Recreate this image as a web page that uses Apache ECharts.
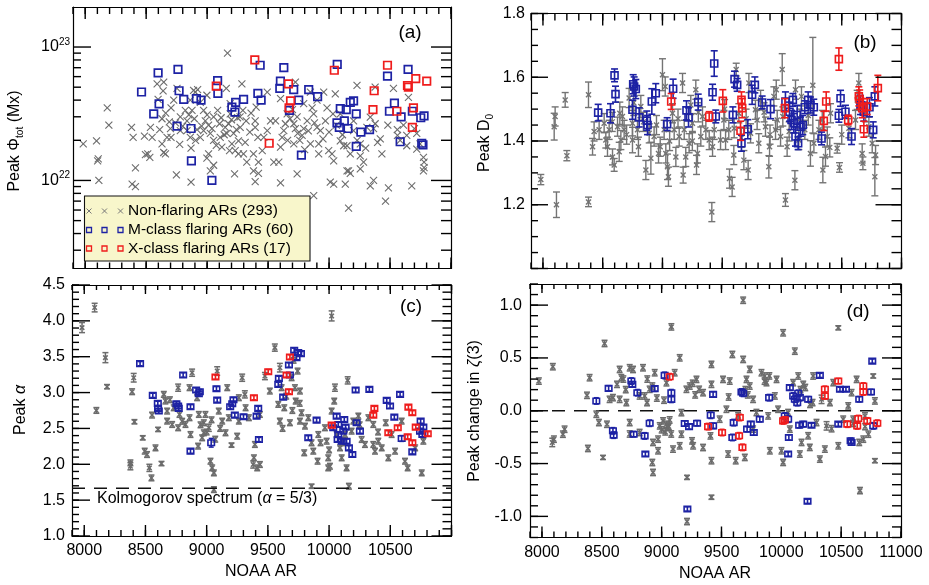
<!DOCTYPE html>
<html><head><meta charset="utf-8">
<script src="https://cdn.jsdelivr.net/npm/echarts@6/dist/echarts.min.js"></script>
<style>html,body{margin:0;padding:0;background:#fff}#c{width:929px;height:585px}</style>
</head><body><div id="c"></div>
<script>
// ---------------- DATA ----------------
const AR_MIN = 7900, AR_MAX = 11000;
const xMajorTicks = [8000, 8500, 9000, 9500, 10000, 10500, 11000];
const xLabelsC = [8000, 8500, 9000, 9500, 10000, 10500];
const xLabelsD = [8000, 8500, 9000, 9500, 10000, 10500, 11000];
const fluxExpTicks = [22, 23];              // 10^22, 10^23 Mx
const fluxRange = [21.34, 23.30];           // log10 Mx
const dimTicks = [1.0, 1.2, 1.4, 1.6, 1.8];
const dimLabels = [1.2, 1.4, 1.6, 1.8];
const alphaTicks = [1.0, 1.5, 2.0, 2.5, 3.0, 3.5, 4.0, 4.5];
const zetaTicks = [-1.0, -0.5, 0.0, 0.5, 1.0];
const KOLMOGOROV = 5 / 3;
const kolmogorovLine = [[AR_MIN, KOLMOGOROV], [AR_MAX, KOLMOGOROV]];
const zeroLine = [[AR_MIN, 0], [AR_MAX, 0]];

// Panel (a): peak total flux, units of 1e22 Mx  [NOAA AR, flux]
const fluxNon = [
[7984,1.88],[8093,1.98],[8102,1.4],[8107,1.45],[8112,1.0],[8181,3.5],[8194,2.6],[8380,2.5],[8393,2.1],[8412,1.24],[8385,0.94],[8412,0.9],[8486,2.15],[8549,2.1],[8535,2.5],[8513,1.58],[8494,1.56],[8530,1.49],[8590,5.3],[8644,5.45],[8639,4.7],[8598,4.05],[8630,2.9],[8611,2.4],[8671,2.1],[8630,1.88],[8644,1.62],[8658,1.58],[8726,4.0],[8704,3.5],[8753,4.9],[8780,3.0],[8775,1.86],[8821,3.35],[8835,2.8],[8876,3.35],[8889,4.74],[8922,4.8],[8862,2.1],[8868,1.75],[8895,2.9],[8917,2.4],[8944,2.1],[8971,3.35],[8985,2.8],[8998,4.35],[9012,2.6],[9012,1.58],[8998,1.47],[9053,1.3],[9026,1.18],[9053,3.0],[9086,3.35],[9102,2.66],[9107,2.1],[9121,1.78],[9157,4.9],[9167,9.0],[9189,3.76],[9176,2.66],[9217,2.25],[9203,1.88],[9184,1.67],[9230,1.67],[9271,2.5],[9285,5.3],[9257,1.98],[9298,1.58],[9225,1.12],[9293,3.35],[9320,2.8],[9325,1.37],[9380,1.58],[9394,2.8],[9394,2.5],[9416,2.1],[9402,3.55],[9421,1.37],[9380,1.18],[9421,1.13],[9394,0.98],[8748,1.1],[8868,0.97],[8699,2.45],[8704,2.1],[8780,2.36],[8835,2.36],[8862,4.0],[8903,4.6],[8944,3.85],[8971,2.36],[9026,2.25],[9053,2.0],[9075,1.83],[9148,2.5],[9162,2.25],[9189,3.15],[9249,2.95],[9257,1.58],[9312,1.93],
[8660,3.2],[8690,2.75],[8740,2.7],[8800,2.55],[8850,3.1],[8905,2.0],[8955,2.55],[9000,3.1],[9040,2.45],[9115,2.95],[9140,2.2],[9200,2.85],[9240,2.4],[9270,3.0],[9350,2.3],[9360,3.2],
[9493,4.6],[9520,2.8],[9465,2.1],[9561,2.8],[9547,1.37],[9588,1.37],[9602,1.78],[9615,2.1],[9629,2.36],[9642,2.66],[9711,1.88],[9724,2.45],[9738,3.0],[9743,2.25],[9738,1.12],[9724,5.45],[9711,2.66],[9779,2.18],[9820,2.8],[9847,4.6],[9861,3.5],[9874,3.15],[9901,2.5],[9915,1.88],[9915,1.58],[9956,4.6],[9983,3.5],[9970,2.8],[9997,1.67],[10024,1.58],[10038,1.4],[10010,0.97],[10038,0.94],[10133,0.94],[9874,0.77],[10160,0.62],[10092,1.98],[10147,1.82],[10160,1.18],[10174,1.13],[10229,5.15],[10256,1.53],[10283,1.37],[10256,1.22],[10365,1.0],[10338,0.91],[10378,5.0],[10378,2.66],[10365,2.45],[10398,1.93],[10433,1.58],[10487,0.88],[10463,0.7],[10482,2.6],[10528,4.9],[10561,2.18],[10583,2.0],[10637,1.82],[10651,4.2],[10637,2.18],[10678,0.91],[10719,2.25],[10774,1.49],[10779,1.37],[10779,1.25],[10774,1.18],[10746,1.88],[10719,1.72],[10610,2.6],[10338,2.98],[10310,2.5],[10201,2.8],[10201,2.36],[10092,3.15],[10032,3.15],[10051,4.45],[10174,1.58],[10256,1.88],[10120,1.82],[9901,4.0],[9847,1.88],[9792,3.76],[9656,3.15],[9602,4.1],[9493,2.36],[9452,1.67],[9602,0.96],[9929,2.36],[9792,2.45],[10147,1.18],
[9660,2.0],[9680,2.9],[9700,3.4],[9760,2.0],[9800,1.7],[9830,2.35],[9880,2.7],[9950,2.05],[10000,2.3],[10060,2.6],[10110,2.2],[10230,2.0],[10300,1.75],[10420,2.05],[10560,2.4],[10700,2.45]
];
const fluxM = [
[8462,4.6],[8598,6.4],[8761,6.8],[8770,4.7],[8808,4.05],[8606,3.75],[8562,3.15],[8753,2.55],[8868,2.45],[8871,1.4],[9039,1.0],[9086,5.6],[9088,4.5],[8912,4.1],[8950,4.0],[9203,3.55],[9228,3.25],[9234,3.85],[9299,4.05],[9416,4.5],[9443,4.0],[9435,7.3],[9629,7.0],[9601,5.55],[9596,4.9],[9710,4.8],[9833,4.8],[9906,4.25],[9675,3.35],[9751,4.0],[9773,1.55],[10067,7.4],[10174,3.85],[10201,3.95],[10092,3.45],[10141,3.4],[10223,3.15],[10065,2.7],[10125,2.8],[10084,2.5],[10155,2.45],[10261,2.3],[10332,2.4],[10223,1.8],[10479,6.05],[10648,6.8],[10536,3.8],[10495,3.3],[10591,3.0],[10683,3.3],[10752,2.95],[10779,3.05],[10583,1.95],[10760,1.9],[10770,1.85]
];
const fluxX = [
[9391,8.0],[9075,5.1],[9509,1.9],[9667,5.3],[9684,3.95],[9672,3.5],[10043,6.7],[10370,4.7],[10360,3.4],[10479,7.3],[10643,5.15],[10650,5.0],[10711,5.8],[10801,5.55],[10556,3.3],[10692,3.5],[10683,2.5]
];

// Panel (b): peak D0  [NOAA AR, D0, error]
const dimNon = [
[7982,1.279,0.016],[8094,1.445,0.042],[8102,1.477,0.03],[8113,1.2,0.04],[8186,1.529,0.023],[8200,1.354,0.016],[8381,1.545,0.04],[8381,1.209,0.015],[8415,1.382,0.026],[8428,1.43,0.03],[8470,1.435,0.03],[8512,1.456,0.03],[8526,1.403,0.025],[8540,1.382,0.03],[8582,1.35,0.025],[8596,1.325,0.02],[8624,1.445,0.03],[8643,1.487,0.035],[8652,1.403,0.03],[8665,1.477,0.03],[8638,1.366,0.03],[8721,1.535,0.03],[8749,1.456,0.04],[8749,1.403,0.04],[8791,1.435,0.03],[8799,1.382,0.03],[8819,1.508,0.035],[8861,1.309,0.03],[8903,1.346,0.05],[8930,1.414,0.03],[8967,1.361,0.03],[8981,1.382,0.03],[9000,1.608,0.05],[9023,1.571,0.03],[9014,1.435,0.03],[9042,1.319,0.04],[9050,1.288,0.03],[9028,1.361,0.03],[9084,1.487,0.03],[9098,1.435,0.03],[9112,1.35,0.03],[9140,1.414,0.03],[9168,1.582,0.03],[9173,1.293,0.025],[9182,1.435,0.03],[9223,1.393,0.03],[9237,1.513,0.03],[9251,1.456,0.03],[9279,1.561,0.03],[9293,1.361,0.03],[9285,1.325,0.03],[9321,1.414,0.03],[9363,1.435,0.03],[9391,1.403,0.03],[9413,1.177,0.03],[9419,1.382,0.03],[9433,1.435,0.03],[8554,1.435,0.03],[8679,1.435,0.03],[8889,1.424,0.03],[9195,1.35,0.03],[9335,1.477,0.03],
[9486,1.403,0.03],[9514,1.466,0.03],[9555,1.435,0.03],[9561,1.282,0.03],[9583,1.256,0.03],[9597,1.356,0.03],[9617,1.624,0.02],[9681,1.34,0.03],[9717,1.309,0.03],[9723,1.582,0.03],[9737,1.424,0.03],[9806,1.393,0.03],[9792,1.466,0.03],[9821,1.529,0.03],[9862,1.445,0.03],[9890,1.319,0.035],[9896,1.382,0.03],[9932,1.54,0.03],[9952,1.561,0.03],[9960,1.466,0.03],[10002,1.624,0.05],[10007,1.477,0.03],[9988,1.414,0.03],[10029,1.215,0.02],[10043,1.382,0.03],[10108,1.277,0.03],[10113,1.561,0.03],[10141,1.403,0.03],[10163,1.54,0.03],[10191,1.435,0.03],[10238,1.361,0.04],[10258,1.575,0.15],[10267,1.393,0.03],[10337,1.466,0.03],[10342,1.309,0.04],[10364,1.351,0.03],[10379,1.414,0.03],[10462,1.377,0.015],[10481,1.317,0.015],[10615,1.466,0.03],[10643,1.582,0.03],[10671,1.361,0.03],[10677,1.33,0.02],[10777,1.288,0.06],[10783,1.356,0.03],[10755,1.393,0.03],[9946,1.435,0.03],[9778,1.498,0.03],[9639,1.487,0.03],[9528,1.403,0.03],[10406,1.487,0.03],[10309,1.435,0.03],[10629,1.529,0.03],[10727,1.445,0.03],
[8580,1.46,0.03],[8700,1.42,0.03],[8760,1.52,0.04],[8840,1.46,0.03],[8950,1.45,0.03],[9060,1.40,0.03],[9130,1.47,0.03],[9250,1.40,0.03],[9300,1.49,0.03],[9520,1.50,0.03],[9600,1.44,0.03],[9660,1.41,0.03],[9700,1.47,0.03],[9850,1.49,0.03],[9900,1.42,0.03],[10060,1.43,0.03],[10150,1.47,0.03],[10220,1.48,0.03],[10400,1.38,0.03],[10500,1.42,0.03],[10560,1.44,0.03],[10700,1.49,0.03]
];
const dimM = [
[8462,1.489,0.026],[8565,1.487,0.03],[8599,1.606,0.02],[8607,1.547,0.025],[8755,1.578,0.03],[8763,1.571,0.03],[8777,1.563,0.03],[8749,1.498,0.03],[8805,1.474,0.03],[8869,1.464,0.03],[8875,1.45,0.03],[8911,1.524,0.04],[8944,1.55,0.03],[9039,1.453,0.02],[9089,1.564,0.03],[9201,1.496,0.03],[9218,1.474,0.03],[9299,1.522,0.025],[9419,1.553,0.025],[9433,1.643,0.04],[9446,1.477,0.02],
[9589,1.482,0.025],[9603,1.594,0.025],[9625,1.576,0.02],[9661,1.393,0.025],[9714,1.437,0.03],[9750,1.545,0.03],[9773,1.576,0.025],[9834,1.521,0.02],[9904,1.5,0.03],[10029,1.524,0.03],[10063,1.492,0.03],[10091,1.529,0.02],[10080,1.466,0.03],[10099,1.456,0.03],[10127,1.482,0.03],[10113,1.414,0.03],[10135,1.393,0.02],[10155,1.445,0.03],[10174,1.45,0.03],[10191,1.506,0.02],[10219,1.529,0.025],[10238,1.513,0.025],[10266,1.506,0.025],[10331,1.408,0.02],[10476,1.479,0.02],[10490,1.534,0.025],[10531,1.492,0.02],[10582,1.414,0.025],[10657,1.513,0.03],[10685,1.492,0.03],[10763,1.435,0.025],[10777,1.54,0.03],[10732,1.506,0.03]
];
const dimX = [
[9073,1.524,0.025],[9391,1.477,0.015],[9505,1.526,0.035],[9661,1.529,0.025],[9667,1.503,0.03],[9653,1.432,0.03],[10024,1.503,0.03],[10370,1.524,0.03],[10350,1.463,0.03],[10476,1.657,0.035],[10554,1.466,0.015],[10643,1.54,0.03],[10650,1.53,0.03],[10671,1.503,0.03],[10685,1.437,0.025],[10713,1.508,0.025],[10802,1.566,0.04]
];

// Panel (c): peak alpha  [NOAA AR, alpha, error]
const alphaNon = [
[7982,3.906,0.07],[8085,4.185,0.06],[8173,3.487,0.07],[8186,3.082,0.03],[8099,2.751,0.04],[8404,3.207,0.06],[8391,3.012,0.04],[8410,2.593,0.03],[8377,1.973,0.05],[8377,2.02,0.04],[8478,2.369,0.03],[8494,2.183,0.04],[8513,2.136,0.04],[8532,1.95,0.05],[8549,1.81,0.04],[8582,2.229,0.04],[8631,2.01,0.03],[8554,2.686,0.04],[8650,2.975,0.04],[8663,2.882,0.04],[8677,2.602,0.04],[8603,2.486,0.03],[8718,2.555,0.04],[8731,2.788,0.04],[8767,3.068,0.05],[8767,2.509,0.04],[8778,2.695,0.04],[8860,3.068,0.04],[8860,2.649,0.04],[8868,2.415,0.04],[8881,3.277,0.05],[8922,2.928,0.04],[8936,2.695,0.04],[8930,2.253,0.04],[8977,2.579,0.04],[8977,2.439,0.04],[9018,2.509,0.05],[9031,2.043,0.04],[9045,1.95,0.04],[9059,1.88,0.04],[9059,1.647,0.04],[9086,3.3,0.06],[9127,2.602,0.04],[9154,2.439,0.04],[9168,3.068,0.04],[9181,2.649,0.04],[9203,2.267,0.03],[9249,2.392,0.04],[9290,3.207,0.05],[9312,2.975,0.05],[9318,2.788,0.04],[9345,2.649,0.04],[9380,1.997,0.05],[9394,2.276,0.04],[9386,2.09,0.04],[9413,1.95,0.04],[8677,2.742,0.04],[8827,2.555,0.04],[8990,2.695,0.04],[9099,2.742,0.04],[9263,2.928,0.04],[8963,2.369,0.04],[9263,2.602,0.04],
[9435,2.695,0.04],[9435,1.997,0.04],[9476,3.23,0.05],[9557,3.627,0.05],[9516,3.021,0.04],[9598,3.347,0.06],[9585,2.835,0.04],[9598,2.602,0.04],[9612,3.068,0.04],[9634,2.788,0.04],[9680,2.579,0.04],[9694,3.207,0.04],[9721,3.068,0.04],[9727,2.881,0.04],[9743,3.3,0.04],[9762,3.021,0.04],[9762,2.602,0.04],[9775,2.718,0.04],[9830,2.649,0.04],[9857,2.299,0.04],[9797,2.16,0.04],[9871,2.183,0.04],[9906,2.043,0.04],[9980,2.322,0.04],[9993,2.09,0.04],[9993,1.95,0.04],[10007,1.973,0.04],[10048,3.068,0.05],[10042,2.881,0.04],[10062,2.415,0.04],[10089,2.229,0.04],[10103,2.09,0.04],[10143,1.95,0.04],[10152,3.17,0.05],[10162,1.694,0.04],[10184,2.462,0.04],[10239,2.672,0.04],[10266,2.346,0.04],[10293,2.276,0.04],[10361,2.276,0.04],[10375,2.183,0.04],[10402,2.322,0.04],[10430,2.229,0.04],[10463,2.579,0.04],[10484,2.09,0.04],[10620,2.043,0.04],[10642,1.95,0.04],[10703,2.229,0.04],[10757,1.88,0.04],[10770,2.322,0.04],[10361,2.555,0.04],[9857,1.694,0.03],[9966,2.509,0.04],[10021,2.742,0.04],[10021,4.069,0.07],[9803,2.532,0.04],[9912,2.415,0.04],[10130,2.415,0.04],[10198,2.602,0.04],[10321,2.649,0.04],[10511,2.415,0.04],[10593,2.602,0.04],[10539,2.183,0.04],
[8950,2.55,0.04],[9000,2.45,0.04],[9040,2.62,0.04],[9070,2.35,0.04],[9110,2.5,0.04],[8700,2.9,0.04],[8800,2.6,0.04],[9650,2.95,0.04],[9700,2.75,0.04],[9710,3.45,0.04],[9760,2.85,0.04],[9620,2.5,0.04],[9930,2.3,0.04],[10000,2.2,0.04],[10110,2.3,0.04],[10250,2.55,0.04],[10400,2.45,0.04]
];
const alphaM = [
[8456,3.403,0.03],[8560,2.961,0.03],[8601,2.849,0.03],[8603,2.779,0.03],[8609,2.742,0.03],[8808,3.245,0.03],[8753,2.844,0.03],[8767,2.812,0.03],[8772,2.779,0.03],[8868,2.802,0.03],[8868,2.183,0.03],[8914,3.035,0.03],[8944,3.012,0.03],[8936,2.984,0.03],[9037,2.3,0.06],[9080,3.054,0.03],[9086,2.895,0.03],[9192,2.802,0.03],[9209,2.844,0.03],[9219,2.9,0.03],[9230,2.686,0.03],[9301,2.663,0.03],[9408,2.672,0.03],[9421,2.779,0.03],[9427,2.345,0.03],
[9590,3.198,0.03],[9585,3.114,0.03],[9625,2.937,0.03],[9672,3.384,0.03],[9715,3.59,0.03],[9748,3.557,0.03],[9770,3.543,0.03],[9734,3.487,0.03],[9680,3.245,0.03],[9830,2.369,0.03],[9898,2.616,0.03],[10062,2.672,0.03],[10075,2.415,0.03],[10116,2.462,0.03],[10135,2.518,0.03],[10143,2.322,0.03],[10103,2.322,0.03],[10070,2.346,0.03],[10162,2.229,0.03],[10190,2.136,0.03],[10217,3.035,0.03],[10225,2.579,0.03],[10252,2.462,0.03],[10329,3.044,0.03],[10471,2.891,0.03],[10498,2.812,0.03],[10533,2.658,0.03],[10580,2.975,0.03],[10593,2.36,0.04],[10680,2.173,0.03],[10748,2.602,0.03],[10770,2.518,0.03],[10743,2.462,0.03],[10762,2.415,0.03],[10034,2.509,0.03],[10124,2.625,0.03],[10075,2.555,0.03]
];
const alphaX = [
[9072,3.217,0.03],[9386,2.928,0.03],[9503,3.291,0.03],[9680,3.496,0.03],[9653,3.245,0.03],[9672,3.012,0.03],[10021,2.546,0.03],[10370,2.779,0.03],[10361,2.686,0.03],[10484,2.439,0.03],[10561,2.509,0.03],[10648,2.797,0.03],[10680,2.718,0.03],[10708,2.518,0.03],[10642,2.383,0.03],[10680,2.3,0.03],[10806,2.425,0.03]
];

// Panel (d): peak change in zeta(3)  [NOAA AR, value, error]
const zetaNon = [
[7974,0.281,0.03],[8091,0.417,0.03],[8086,-0.3,0.04],[8100,-0.269,0.03],[8175,-0.222,0.03],[8189,-0.175,0.03],[8384,-0.357,0.03],[8376,0.146,0.03],[8398,0.313,0.03],[8523,0.637,0.03],[8510,-0.442,0.02],[8476,-0.112,0.03],[8454,-0.033,0.03],[8543,-0.128,0.03],[8593,0.124,0.03],[8627,0.25,0.03],[8649,0.391,0.03],[8663,0.313,0.03],[8733,0.407,0.03],[8761,0.391,0.03],[8733,-0.112,0.03],[8844,0.407,0.03],[8858,0.14,0.03],[8878,0.077,0.03],[8900,0.203,0.03],[8922,0.234,0.03],[8942,0.36,0.03],[8928,-0.3,0.03],[8922,-0.49,0.03],[8928,-0.584,0.03],[8970,-0.379,0.03],[8970,-0.269,0.03],[8984,-0.143,0.03],[9012,-0.096,0.03],[9040,-0.128,0.03],[9053,-0.159,0.03],[9067,-0.087,0.03],[9040,0.265,0.03],[9081,0.794,0.03],[9095,-0.363,0.03],[9151,0.501,0.03],[9165,-0.018,0.03],[9165,-0.222,0.03],[9151,-0.332,0.03],[9207,0.203,0.03],[9212,-0.631,0.02],[9212,-1.049,0.03],[9235,0.234,0.03],[9254,-0.285,0.03],[9263,-0.332,0.03],[9291,0.297,0.03],[9313,0.203,0.03],[9346,-0.348,0.03],[9416,-0.819,0.02],[9416,-0.473,0.03],[9408,-0.238,0.03],[9416,0.25,0.03],[9416,0.439,0.03],[8649,0.108,0.03],[8565,0.108,0.03],[8816,0.14,0.03],[8816,-0.206,0.03],[8705,0.077,0.03],[8733,-0.22,0.03],[9109,0.36,0.03],[9346,0.171,0.03],
[9513,0.297,0.03],[9485,-0.08,0.03],[9555,-0.41,0.03],[9569,0.281,0.03],[9591,0.533,0.03],[9619,-0.473,0.03],[9681,1.046,0.03],[9681,0.486,0.03],[9695,-0.442,0.03],[9709,0.297,0.03],[9736,0.392,0.03],[9736,0.234,0.03],[9764,0.108,0.03],[9792,-0.017,0.03],[9834,0.36,0.03],[9862,0.329,0.03],[9876,0.266,0.03],[9890,-0.049,0.03],[9904,-0.379,0.03],[9946,0.14,0.03],[9973,0.014,0.03],[10001,-0.379,0.03],[10015,-0.489,0.03],[10015,0.738,0.03],[10057,-0.017,0.03],[10099,0.266,0.03],[10113,0.564,0.03],[10141,0.329,0.03],[10155,-0.41,0.03],[10169,-0.3,0.03],[10183,0.25,0.03],[10224,-0.237,0.03],[10238,-0.347,0.03],[10261,0.077,0.03],[10322,-0.458,0.03],[10336,0.108,0.04],[10364,-0.363,0.03],[10378,-0.143,0.04],[10406,0.077,0.03],[10476,-0.332,0.03],[10476,0.785,0.02],[10559,0.046,0.03],[10587,0.171,0.03],[10629,0.297,0.03],[10651,-0.3,0.03],[10657,-0.756,0.03],[10685,-0.269,0.03],[10727,-0.222,0.03],[10768,0.329,0.02],[10782,-0.473,0.02],[10782,0.093,0.03],[10517,-0.08,0.03],[10601,-0.08,0.03],[10699,-0.049,0.03],[9764,-0.174,0.03],[9639,-0.049,0.03],[9541,0.014,0.03],[9960,0.297,0.03],[10266,0.329,0.03],[10434,0.266,0.03],[10071,-0.174,0.03],[10294,-0.112,0.03],
[9000,-0.18,0.03],[9030,-0.2,0.03],[9060,-0.15,0.03],[9080,-0.22,0.03],[9020,0.1,0.03],[8960,0.12,0.03],[8880,0.3,0.03],[8700,0.2,0.03],[8680,0.3,0.03],[9260,0.26,0.03],[9280,0.15,0.03],[9560,0.13,0.03],[9700,0.2,0.03],[9720,0.15,0.03],[9860,0.28,0.03],[9900,0.33,0.03],[10160,0.2,0.03],[10200,0.22,0.03],[10240,0.06,0.03],[10420,-0.17,0.03],[10600,-0.12,0.03],[10700,-0.15,0.03]
];
const zetaM = [
[8454,0.093,0.03],[8557,0.212,0.025],[8593,-0.19,0.03],[8599,-0.231,0.03],[8747,0.281,0.03],[8755,0.25,0.025],[8797,0.171,0.03],[8766,-0.222,0.025],[8858,-0.238,0.03],[8864,-0.41,0.02],[8900,-0.118,0.03],[8942,0.209,0.025],[9025,0.335,0.03],[9081,0.171,0.03],[9081,0.108,0.03],[9193,-0.121,0.025],[9229,-0.15,0.025],[9296,-0.118,0.025],[9215,-0.93,0.02],[9430,0.155,0.025],[9410,-0.043,0.03],[9430,-0.143,0.025],
[9591,-0.253,0.03],[9602,-0.112,0.03],[9667,0.178,0.03],[9681,0.165,0.03],[9714,-0.174,0.025],[9745,-0.127,0.025],[9770,-0.206,0.025],[9820,-0.08,0.025],[9898,0.124,0.03],[10029,-0.049,0.03],[10057,-0.08,0.03],[10063,-0.253,0.025],[10057,-0.41,0.02],[10071,0.219,0.025],[10099,0.14,0.03],[10113,0.109,0.03],[10141,0.165,0.03],[10155,0.124,0.03],[10133,0.077,0.03],[10149,-0.137,0.025],[10183,-0.127,0.025],[10224,0.109,0.025],[10252,-0.137,0.02],[10219,-0.857,0.02],[10322,0.335,0.02],[10476,-0.127,0.02],[10490,0.203,0.02],[10540,0.203,0.02],[10579,-0.284,0.025],[10587,-0.3,0.025],[10651,0.109,0.025],[10749,0.178,0.025],[10760,0.47,0.02],[10768,-0.143,0.03]
];
const zetaX = [
[9067,0.322,0.03],[9388,-0.15,0.03],[9505,-0.206,0.03],[9653,-0.064,0.03],[9647,-0.237,0.03],[9675,-0.347,0.03],[10015,-0.096,0.03],[10029,-0.086,0.03],[10364,0.203,0.03],[10364,0.14,0.03],[10476,0.281,0.025],[10551,-0.127,0.03],[10643,-0.074,0.03],[10634,-0.143,0.03],[10685,0.234,0.03],[10685,0.178,0.03],[10718,-0.096,0.03],[10802,-0.118,0.03]
];

// ---------------- STYLE / LAYOUT ----------------
const FONT = '"Liberation Sans", Arial, Helvetica, sans-serif';
const GREY = '#6c6c6c', BLUE = '#1d22a4', RED = '#ef1c1c', INK = '#000';

function steps(a, b, s) { const r = []; for (let v = a; v <= b + 1e-9; v += s) r.push(+v.toFixed(4)); return r; }
const xMinorTicks = steps(AR_MIN, AR_MAX, 100);
const fluxMinorTicks = [];
[21, 22, 23].forEach(e => [2,3,4,5,6,7,8,9].forEach(m => { const v = e + Math.log10(m); if (v > fluxRange[0] && v < fluxRange[1]) fluxMinorTicks.push(+v.toFixed(5)); }));

const grids = [
  { left: 73, top: 7, width: 378, height: 261.5 },
  { left: 531, top: 13.5, width: 370.5, height: 255 },
  { left: 72, top: 285, width: 379.5, height: 251 },
  { left: 530, top: 284, width: 371, height: 253.5 }
];

// Frame: bottom/left axes carry labels; top/right twins close the box.
const xAxes = [], yAxes = [];
function lineOn() { return { show: true, onZero: false, lineStyle: { color: INK, width: 1.2 } }; }
function addX(g, labels) {
  const base = () => ({ type: 'value', gridIndex: g, min: AR_MIN, max: AR_MAX, axisLine: lineOn(), axisTick: { show: false }, splitLine: { show: false } });
  const first = xAxes.length;
  xAxes.push(Object.assign(base(), { position: 'bottom',
    axisLabel: labels ? { show: true, customValues: labels, formatter: v => String(v), fontFamily: FONT, fontSize: 16, color: '#000', margin: 7 } : { show: false } }));
  xAxes.push(Object.assign(base(), { position: 'top', axisLabel: { show: false } }));
  return first;
}
function addY(g, o) {
  const base = () => ({ type: 'value', gridIndex: g, min: o.min, max: o.max, axisLine: lineOn(), axisTick: { show: false }, splitLine: { show: false } });
  const first = yAxes.length;
  yAxes.push(Object.assign(base(), { position: 'left',
    axisLabel: { show: true, customValues: o.labels, formatter: o.fmt, rich: o.rich, fontFamily: FONT, fontSize: 16, color: '#000', margin: o.margin } }));
  yAxes.push(Object.assign(base(), { position: 'right', axisLabel: { show: false } }));
  return first;
}
const xa = addX(0, null), xb = addX(1, null), xc = addX(2, xLabelsC), xd = addX(3, xLabelsD);
const ya = addY(0, { min: fluxRange[0], max: fluxRange[1], labels: fluxExpTicks, margin: 3,
  fmt: v => '{b|10}{s|' + Math.round(v) + '}',
  rich: { b: { fontFamily: FONT, fontSize: 16, lineHeight: 20, color: '#000' }, s: { fontFamily: FONT, fontSize: 10, verticalAlign: 'top', color: '#000' } } });
const yb = addY(1, { min: 1.0, max: 1.8, labels: dimLabels, margin: 6, fmt: v => v.toFixed(1) });
const yc = addY(2, { min: 1.0, max: 4.5, labels: alphaTicks, margin: 7, fmt: v => v.toFixed(1) });
const yd = addY(3, { min: -1.2, max: 1.2, labels: zetaTicks, margin: 8, fmt: v => v.toFixed(1) });

// Inward tick marks drawn like the error bars: a custom series, positions from api.coord.
function tickSeries(xi, yi, dim, vals, yExt, lenNear, lenFar) {
  const yMid = (yExt[0] + yExt[1]) / 2, xMid = (AR_MIN + AR_MAX) / 2;
  return { type: 'custom', xAxisIndex: xi, yAxisIndex: yi, silent: true, z: 8, clip: false, animation: false,
    data: vals.map(v => dim === 'x' ? [v, yMid] : [xMid, v]), encode: { x: 0, y: 1 },
    renderItem: function (params, api) {
      const ls = { stroke: INK, lineWidth: 1.4, fill: null };
      if (dim === 'x') {
        const v = api.value(0);
        const b = api.coord([v, yExt[0]]), t = api.coord([v, yExt[1]]);
        return { type: 'group', children: [
          { type: 'line', shape: { x1: b[0], y1: b[1], x2: b[0], y2: b[1] - lenNear }, style: ls },
          { type: 'line', shape: { x1: t[0], y1: t[1], x2: t[0], y2: t[1] + lenFar }, style: ls } ] };
      }
      const v = api.value(1);
      const l = api.coord([AR_MIN, v]), r = api.coord([AR_MAX, v]);
      return { type: 'group', children: [
        { type: 'line', shape: { x1: l[0], y1: l[1], x2: l[0] + lenNear, y2: l[1] }, style: ls },
        { type: 'line', shape: { x1: r[0], y1: r[1], x2: r[0] - lenFar, y2: r[1] }, style: ls } ] };
    } };
}
function frameTicks(xi, yi, yExt, yMajor, yMinor, L) {
  return [
    tickSeries(xi, yi, 'x', xMajorTicks, yExt, L.x[0], L.x[1]),
    tickSeries(xi, yi, 'x', xMinorTicks, yExt, L.x[2], L.x[3]),
    tickSeries(xi, yi, 'y', yMajor, yExt, L.y[0], L.y[1]),
    tickSeries(xi, yi, 'y', yMinor, yExt, L.y[2], L.y[3])
  ];
}

function makeRender(st) {
  return function (params, api) {
    const x = api.value(0), y = api.value(1), e = api.value(2);
    const c = api.coord([x, y]);
    const kids = [];
    const ls = { stroke: st.color, lineWidth: st.lw, fill: null };
    if (e > 0) {
      const t = api.coord([x, y + e]), b = api.coord([x, y - e]);
      const cw = st.cap / 2;
      kids.push({ type: 'line', shape: { x1: c[0], y1: t[1], x2: c[0], y2: b[1] }, style: ls });
      kids.push({ type: 'line', shape: { x1: c[0] - cw, y1: t[1], x2: c[0] + cw, y2: t[1] }, style: ls });
      kids.push({ type: 'line', shape: { x1: c[0] - cw, y1: b[1], x2: c[0] + cw, y2: b[1] }, style: ls });
    }
    const hw = st.w / 2, hh = st.h / 2;
    if (st.shape === 'x') {
      kids.push({ type: 'line', shape: { x1: c[0] - hw, y1: c[1] - hh, x2: c[0] + hw, y2: c[1] + hh }, style: ls });
      kids.push({ type: 'line', shape: { x1: c[0] - hw, y1: c[1] + hh, x2: c[0] + hw, y2: c[1] - hh }, style: ls });
    } else {
      kids.push({ type: 'rect', shape: { x: c[0] - hw, y: c[1] - hh, width: st.w, height: st.h }, style: { stroke: st.color, lineWidth: st.lw, fill: 'none' } });
    }
    return { type: 'group', children: kids };
  };
}
function pts(xi, yi, data, st, z) {
  return { type: 'custom', xAxisIndex: xi, yAxisIndex: yi, data: data, encode: { x: 0, y: 1 }, renderItem: makeRender(st), z: z, silent: true, animation: false };
}
const toLog = d => d.map(p => [p[0], 22 + Math.log10(p[1])]);

const series = [].concat(
  frameTicks(xa, ya, fluxRange, fluxExpTicks, fluxMinorTicks, { x: [11, 12, 6, 7], y: [18, 20, 8, 10] }),
  frameTicks(xb, yb, [1.0, 1.8], dimTicks, steps(1.0, 1.8, 0.05), { x: [11, 12, 6, 7], y: [17, 26, 7, 10] }),
  frameTicks(xc, yc, [1.0, 4.5], alphaTicks, steps(1.0, 4.5, 0.1), { x: [11, 9, 6, 5], y: [18, 20, 7, 9] }),
  frameTicks(xd, yd, [-1.2, 1.2], zetaTicks, steps(-1.2, 1.2, 0.1), { x: [11, 9, 6, 5], y: [18, 19, 8, 9] }),
  [
  pts(xa, ya, toLog(fluxNon), { shape: 'x', color: GREY, w: 7, h: 7, lw: 1.1 }, 2),
  pts(xa, ya, toLog(fluxM), { shape: 'sq', color: BLUE, w: 7.5, h: 7.5, lw: 1.7 }, 3),
  pts(xa, ya, toLog(fluxX), { shape: 'sq', color: RED, w: 7.5, h: 7.5, lw: 1.7 }, 4),
  pts(xb, yb, dimNon, { shape: 'x', color: '#747474', w: 5, h: 5, lw: 1.4, cap: 7 }, 2),
  pts(xb, yb, dimM, { shape: 'sq', color: BLUE, w: 7, h: 7, lw: 1.6, cap: 7 }, 3),
  pts(xb, yb, dimX, { shape: 'sq', color: RED, w: 7, h: 7, lw: 1.6, cap: 7 }, 4),
  pts(xc, yc, alphaNon, { shape: 'x', color: GREY, w: 4.5, h: 4.5, lw: 1.5, cap: 6 }, 2),
  pts(xc, yc, alphaM, { shape: 'sq', color: BLUE, w: 6.5, h: 5.5, lw: 1.6, cap: 5 }, 3),
  pts(xc, yc, alphaX, { shape: 'sq', color: RED, w: 6.5, h: 5.5, lw: 1.6, cap: 5 }, 4),
  pts(xd, yd, zetaNon, { shape: 'x', color: GREY, w: 4.5, h: 4.5, lw: 1.5, cap: 6 }, 2),
  pts(xd, yd, zetaM, { shape: 'sq', color: BLUE, w: 6.5, h: 5.5, lw: 1.6, cap: 5 }, 3),
  pts(xd, yd, zetaX, { shape: 'sq', color: RED, w: 6.5, h: 5.5, lw: 1.6, cap: 5 }, 4),
  { type: 'line', xAxisIndex: xc, yAxisIndex: yc, data: kolmogorovLine, symbol: 'none', silent: true, z: 5, animation: false,
    lineStyle: { color: '#111', width: 1.4, type: [13, 9] } },
  { type: 'line', xAxisIndex: xd, yAxisIndex: yd, data: zeroLine, symbol: 'none', silent: true, z: 1, animation: false,
    lineStyle: { color: '#111', width: 1.4, type: [13, 9] } }
  ]);

// ---------------- TEXT / LEGEND ----------------
function txt(x, y, text, opt) {
  opt = opt || {};
  return { type: 'text', x: x, y: y, rotation: opt.rot || 0, z: 100,
    style: Object.assign({ text: text, fontFamily: FONT, fontSize: opt.size || 16, fill: '#000',
      textAlign: opt.align || 'center', align: opt.align || 'center', textVerticalAlign: 'middle', verticalAlign: 'middle' }, opt.style || {}) };
}
const R90 = Math.PI / 2;
const richBase = { n: { fontFamily: FONT, fontSize: 16, lineHeight: 20, fill: '#000' },
  sub: { fontFamily: FONT, fontSize: 10, verticalAlign: 'bottom', fill: '#000' },
  i: { fontFamily: FONT, fontSize: 16, fontStyle: 'italic', lineHeight: 20, fill: '#000' } };

const graphics = [
  txt(15, 141, '{n|Peak Φ}{sub|tot}{n| (Mx)}', { rot: R90, style: { rich: richBase } }),
  txt(485, 143, '{n|Peak D}{sub|0}', { rot: R90, style: { rich: richBase } }),
  txt(21, 410, '{n|Peak }{i|α}', { rot: R90, style: { rich: richBase } }),
  txt(475, 411, '{n|Peak change in }{i|ζ}{n|(3)}', { rot: R90, style: { rich: richBase } }),
  txt(261, 572, 'NOAA AR'),
  txt(715, 574, 'NOAA AR'),
  txt(410, 33, '(a)', { size: 19 }),
  txt(865, 43, '(b)', { size: 19 }),
  txt(411, 307, '(c)', { size: 19 }),
  txt(858, 312, '(d)', { size: 19 }),
  txt(97, 499, '{n|Kolmogorov spectrum (}{i|α}{n| = 5/3)}', { align: 'left', style: { rich: richBase } }),
  { type: 'rect', z: 99, shape: { x: 84.5, y: 196, width: 225.5, height: 65 }, style: { fill: '#f8f6cb', stroke: '#111', lineWidth: 1.1 } },
  txt(128, 211, 'Non-flaring ARs (293)', { align: 'left', size: 15.5 }),
  txt(128, 230, 'M-class flaring ARs (60)', { align: 'left', size: 15.5 }),
  txt(128, 248.5, 'X-class flaring ARs (17)', { align: 'left', size: 15.5 })
];
[89, 104.5, 120.5].forEach(cx => {
  graphics.push({ type: 'line', z: 101, shape: { x1: cx - 2.5, y1: 208.5, x2: cx + 2.5, y2: 213.5 }, style: { stroke: '#777', lineWidth: 1 } });
  graphics.push({ type: 'line', z: 101, shape: { x1: cx - 2.5, y1: 213.5, x2: cx + 2.5, y2: 208.5 }, style: { stroke: '#777', lineWidth: 1 } });
  graphics.push({ type: 'rect', z: 101, shape: { x: cx - 2.5, y: 227.5, width: 5, height: 5 }, style: { stroke: BLUE, lineWidth: 1.3, fill: 'none' } });
  graphics.push({ type: 'rect', z: 101, shape: { x: cx - 2.5, y: 246, width: 5, height: 5 }, style: { stroke: RED, lineWidth: 1.3, fill: 'none' } });
});

const chart = echarts.init(document.getElementById('c'), null, { renderer: 'canvas' });
chart.setOption({
  animation: false,
  grid: grids,
  xAxis: xAxes,
  yAxis: yAxes,
  series: series,
  graphic: { elements: graphics }
});
</script></body></html>
